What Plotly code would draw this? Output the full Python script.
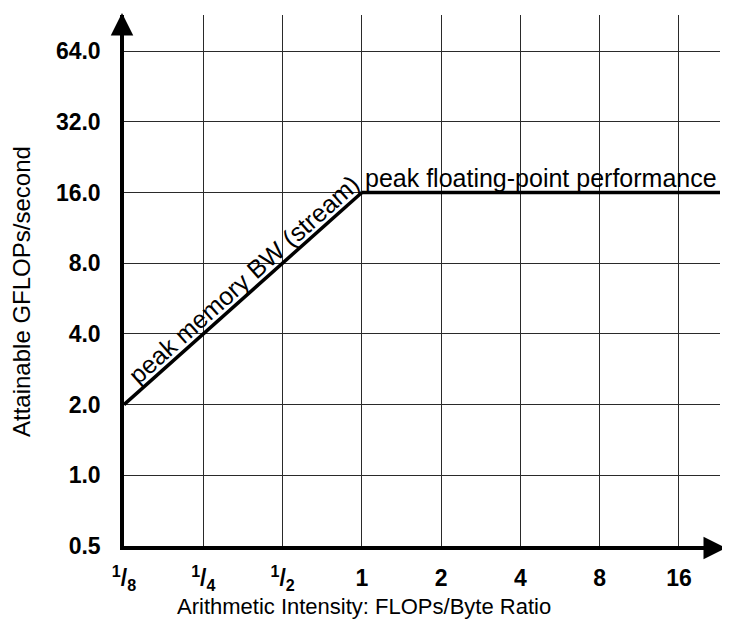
import math
import plotly.graph_objects as go

# ---- data ----
x_ticks = [0.125, 0.25, 0.5, 1, 2, 4, 8, 16]
x_tick_labels = ["<sup>1</sup>/<sub>8</sub>", "<sup>1</sup>/<sub>4</sub>", "<sup>1</sup>/<sub>2</sub>",
                 "1", "2", "4", "8", "16"]
y_ticks = [0.5, 1, 2, 4, 8, 16, 32, 64]
y_tick_labels = ["0.5", "1.0", "2.0", "4.0", "8.0", "16.0", "32.0", "64.0"]
bw_x = [0.125, 1]
bw_y = [2, 16]
peak_x = [1, 22.9]
peak_y = [16, 16]
x_range = [0.125, 22.9]
y_range = [0.5, 91.1]

FONT = "Liberation Sans, Arial, Helvetica, sans-serif"

# page geometry (browser body has an 8px margin)
OFF = 8
W, H = 730 - OFF, 619 - OFF
PL, PR, PT, PB = 124, 720, 15, 546          # plot area in page pixels
L, R, T, B = PL - OFF, W - (PR - OFF), PT - OFF, H - (PB - OFF)
PW, PH = PR - PL, PB - PT


def px(xp):  # page x -> paper
    return (xp - PL) / PW


def py(yp):  # page y -> paper
    return (PB - yp) / PH


fig = go.Figure()
fig.add_trace(go.Scatter(x=bw_x, y=bw_y, mode="lines",
                         line=dict(color="black", width=3.5), showlegend=False, cliponaxis=False))
fig.add_trace(go.Scatter(x=peak_x, y=peak_y, mode="lines",
                         line=dict(color="black", width=3.5), showlegend=False, cliponaxis=False))

fig.update_xaxes(type="log", range=[math.log10(x_range[0]), math.log10(x_range[1])],
                 tickvals=x_ticks, ticktext=x_tick_labels,
                 showgrid=True, gridcolor="#2a2a2a", gridwidth=1.2,
                 showline=True, linecolor="black", linewidth=3.5,
                 ticks="", ticklabelstandoff=9,
                 tickfont=dict(family=FONT, size=23, color="black", weight="bold"))
fig.update_yaxes(type="log", range=[math.log10(y_range[0]), math.log10(y_range[1])],
                 tickvals=y_ticks, ticktext=y_tick_labels,
                 showgrid=True, gridcolor="#2a2a2a", gridwidth=1.2,
                 showline=True, linecolor="black", linewidth=3.5,
                 ticks="", ticklabelstandoff=15,
                 tickfont=dict(family=FONT, size=23, color="black", weight="bold"))

ann_font = dict(family=FONT, size=25, color="black")
fig.add_annotation(x=math.log10(peak_x[0]), y=math.log10(peak_y[0]), xref="x", yref="y",
                   text="peak floating-point performance", showarrow=False,
                   xanchor="left", yanchor="bottom", xshift=1, yshift=-2, font=ann_font)
fig.add_annotation(x=math.log10(math.sqrt(bw_x[0] * bw_x[1])), y=math.log10(math.sqrt(bw_y[0] * bw_y[1])),
                   xref="x", yref="y", text="peak memory BW (stream)", showarrow=False,
                   textangle=-41.7, xanchor="center", yanchor="middle", xshift=1, yshift=20, font=ann_font)
# axis titles
fig.add_annotation(x=px(364), y=py(606), xref="paper", yref="paper",
                   text="Arithmetic Intensity: FLOPs/Byte Ratio", xanchor="center", yanchor="middle",
                   showarrow=False, font=dict(family=FONT, size=22, color="black"))
fig.add_annotation(x=px(21), y=py(292), xref="paper", yref="paper",
                   text="Attainable GFLOPs/second", textangle=-90, xanchor="center", yanchor="middle",
                   showarrow=False, font=dict(family=FONT, size=24, color="black"))
# arrows on axes
fig.add_annotation(x=px(122), y=py(13), xref="paper", yref="paper", ax=0, ay=40, text="",
                   showarrow=True, arrowhead=2, arrowsize=1.5, arrowwidth=3, arrowcolor="black")
fig.add_annotation(x=px(726), y=py(548), xref="paper", yref="paper", ax=-40, ay=0, text="",
                   showarrow=True, arrowhead=2, arrowsize=1.5, arrowwidth=3, arrowcolor="black")

fig.update_layout(width=W, height=H, margin=dict(l=L, r=R, t=T, b=B, autoexpand=False),
                  plot_bgcolor="white", paper_bgcolor="white", showlegend=False)
fig.write_html("out.html")
